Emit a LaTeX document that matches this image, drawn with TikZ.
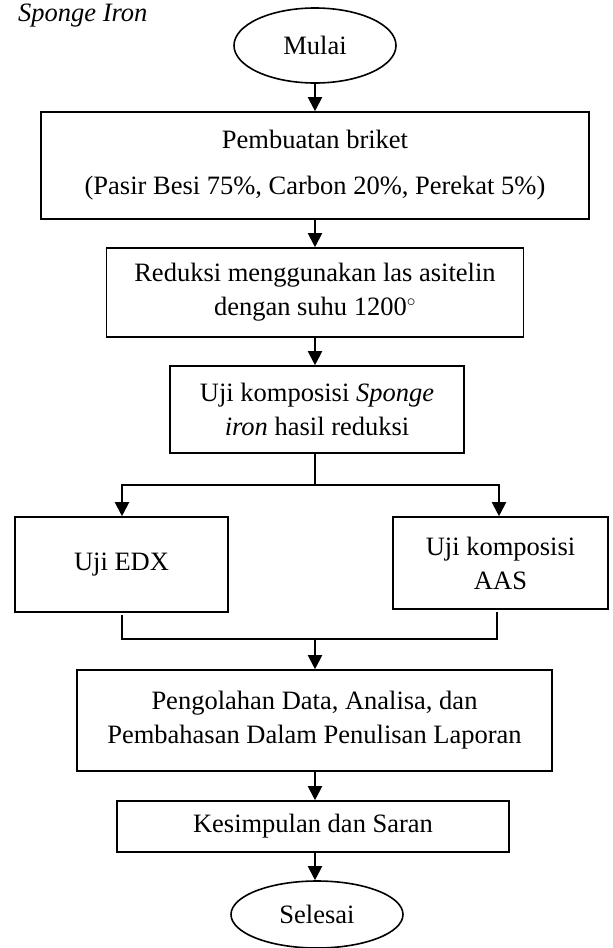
\documentclass[tikz,border=0pt]{standalone}
\usepackage{fontspec}
\setmainfont{Liberation Serif}
\usetikzlibrary{shapes.geometric,arrows.meta}
\begin{document}
\begin{tikzpicture}[x=1pt,y=-1pt,
  txt/.style={font=\fontsize{26.5}{34}\selectfont},
  box/.style={txt,draw,line width=1.6pt,rectangle,inner sep=0pt,align=center},
  oval/.style={txt,draw,line width=1.6pt,ellipse,inner sep=0pt},
  arr/.style={line width=2pt,-{Triangle[width=14pt,length=14pt]}},
  ln/.style={line width=2pt}]
\useasboundingbox (0,0) rectangle (613,948);

\node[txt,font=\fontsize{26.5}{34}\selectfont\itshape,anchor=base west,inner sep=0pt] (title) at (18,21) {Sponge Iron};

\node[oval,minimum width=162,minimum height=75] (start) at (315,45.5) {Mulai};

\node[box,minimum width=548,minimum height=107,font=\fontsize{26.5}{46}\selectfont] (b1) at (315,165.5)
  {Pembuatan briket\\(Pasir Besi 75\%, Carbon 20\%, Perekat 5\%)};

\node[box,minimum width=417,minimum height=89] (b2) at (315,292.5)
  {Reduksi menggunakan las asitelin\\dengan suhu 1200$^{\circ}$};

\node[box,minimum width=294,minimum height=87] (b3) at (317,409.5)
  {Uji komposisi \textit{Sponge}\\\textit{iron} hasil reduksi};

\node[box,minimum width=213,minimum height=95] (edx) at (121.5,564.5) {Uji EDX};
\node[box,minimum width=215,minimum height=92] (aas) at (500.5,563) {Uji komposisi\\AAS};

\node[box,minimum width=475,minimum height=101] (b4) at (314.5,720.5)
  {Pengolahan Data, Analisa, dan\\Pembahasan Dalam Penulisan Laporan};

\node[box,minimum width=392,minimum height=51] (b5) at (313,826.5) {Kesimpulan dan Saran};

\node[oval,minimum width=172,minimum height=67] (end) at (317,914.5) {Selesai};

\coordinate (split) at (315,485);
\coordinate (merge) at (315,639);

\draw[arr] (start.south -| split) -- (split |- b1.north);
\draw[arr] (b1.south -| split) -- (split |- b2.north);
\draw[arr] (b2.south -| split) -- (split |- b3.north);
\draw[ln] (b3.south -| split) -- (split);
\draw[arr] (split) -| ([xshift=0.5pt]edx.north);
\draw[arr] (split) -| ([xshift=-1.5pt]aas.north);
\draw[ln] ([xshift=0.5pt,yshift=-2pt]edx.south) -- ([xshift=0.5pt]edx.south |- merge)
  -- ([xshift=-3.5pt]aas.south |- merge) -- ([xshift=-3.5pt,yshift=-2pt]aas.south);
\draw[arr] (merge) -- (merge |- b4.north);
\draw[arr] (b4.south -| merge) -- (merge |- b5.north);
\draw[arr] (b5.south -| merge) -- (merge |- end.north);
\end{tikzpicture}
\end{document}
